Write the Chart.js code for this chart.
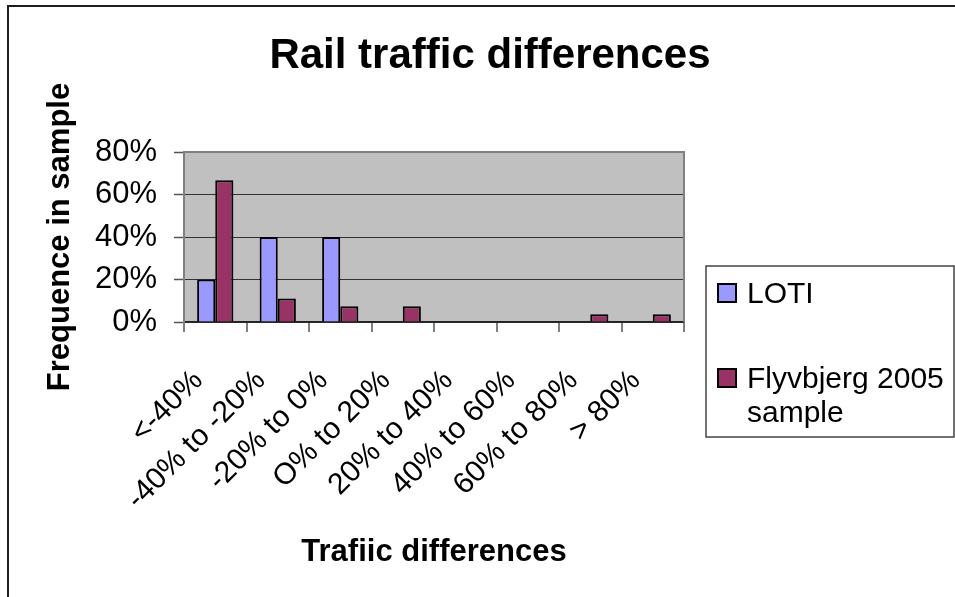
<!DOCTYPE html>
<html>
<head>
<meta charset="utf-8">
<script src="https://cdn.jsdelivr.net/npm/chart.js@4/dist/chart.umd.min.js"></script>
<style>
  html, body { margin: 0; padding: 0; background: #ffffff; }
  #wrap { width: 955px; height: 597px; position: relative; }
</style>
</head>
<body>
<div id="wrap"><canvas id="chart" width="955" height="597"></canvas></div>
<script>
// Share of projects in each traffic-difference band (percent)
const categories = ['<-40%', '-40% to -20%', '-20% to 0%', 'O% to 20%', '20% to 40%', '40% to 60%', '60% to 80%', '> 80%'];
const lotiShare = [20, 40, 40, 0, 0, 0, 0, 0];
const flyvbjergShare = [66.7, 11.1, 7.4, 7.4, 0, 0, 3.7, 3.7];
const yTicks = [0, 20, 40, 60, 80];
const seriesNames = ['LOTI', ['Flyvbjerg 2005', 'sample']];
const seriesColors = ['#9999FF', '#993366'];

const FONT = "'Liberation Sans', Arial, Helvetica, sans-serif";

// Grey plot background, plot frame and outer frame
const frame = {
  id: 'frame',
  beforeDraw(chart) {
    const { ctx, chartArea: a } = chart;
    ctx.save();
    ctx.fillStyle = '#C0C0C0';
    ctx.fillRect(a.left, a.top, a.right - a.left, a.bottom - a.top);
    ctx.restore();
  },
  afterDraw(chart) {
    const { ctx, chartArea: a } = chart;
    ctx.save();
    ctx.strokeStyle = '#808080';
    ctx.lineWidth = 2;
    ctx.beginPath();
    ctx.moveTo(a.left, a.top);
    ctx.lineTo(a.right, a.top);
    ctx.lineTo(a.right, a.bottom);
    ctx.stroke();
    // outer chart frame
    ctx.strokeStyle = '#1e1e1e';
    ctx.lineWidth = 2;
    ctx.beginPath();
    ctx.moveTo(8, chart.height);
    ctx.lineTo(8, 6);
    ctx.lineTo(chart.width, 6);
    ctx.stroke();
    ctx.restore();
  }
};

// Legend on the right, in its own layout box so the title centres over the whole chart
const sideLegend = {
  id: 'sideLegend',
  beforeInit(chart) {
    const box = {
      position: 'right', weight: 0, fullSize: false, options: {},
      width: 0, height: 0, left: 0, top: 0, right: 0, bottom: 0,
      isHorizontal() { return false; },
      update(maxWidth, maxHeight) { this.width = 271; this.height = maxHeight; },
      getPadding() { return { top: 0, left: 0, right: 0, bottom: 0 }; },
      draw() {}
    };
    Chart.layouts.addBox(chart, box);
  },
  afterDraw(chart) {
    const { ctx } = chart;
    const left = chart.chartArea.right + 22;
    const top = 266;
    ctx.save();
    ctx.strokeStyle = '#444444';
    ctx.lineWidth = 1.5;
    ctx.strokeRect(left, top, 248, 171);
    ctx.font = '30px ' + FONT;
    ctx.fillStyle = '#000000';
    ctx.textBaseline = 'alphabetic';
    ctx.textAlign = 'left';
    const rows = [
      { sq: top + 18, base: top + 37 },
      { sq: top + 103, base: top + 122 }
    ];
    chart.data.datasets.forEach((ds, i) => {
      const r = rows[i];
      ctx.fillStyle = ds.backgroundColor;
      ctx.fillRect(left + 12, r.sq, 18, 18);
      ctx.strokeStyle = '#000000';
      ctx.lineWidth = 2;
      ctx.strokeRect(left + 12, r.sq, 18, 18);
      ctx.fillStyle = '#000000';
      const lines = Array.isArray(ds.label) ? ds.label : [ds.label];
      lines.forEach((t, k) => ctx.fillText(t, left + 41, r.base + k * 34));
    });
    ctx.restore();
  }
};

new Chart(document.getElementById('chart'), {
  type: 'bar',
  data: {
    labels: categories,
    datasets: [
      { label: seriesNames[0], data: lotiShare, backgroundColor: seriesColors[0], borderColor: '#000000', borderWidth: 2 },
      { label: seriesNames[1], data: flyvbjergShare, backgroundColor: seriesColors[1], borderColor: '#000000', borderWidth: 2 }
    ]
  },
  options: {
    responsive: false,
    animation: false,
    devicePixelRatio: 1,
    layout: { padding: { left: 25, right: 0, top: 0, bottom: 0 } },
    datasets: { bar: { categoryPercentage: 0.58, barPercentage: 1.0 } },
    plugins: {
      legend: { display: false },
      tooltip: { enabled: false },
      title: {
        display: true,
        text: 'Rail traffic differences',
        color: '#000000',
        font: { family: FONT, size: 42, weight: 'bold', lineHeight: 1.2 },
        padding: { top: 31, bottom: 70.6 }
      }
    },
    scales: {
      x: {
        afterFit(scale) { scale.height = 275; },
        grid: { display: true, drawOnChartArea: false, offset: true, tickLength: 10, color: '#808080', lineWidth: 2 },
        border: { display: true, color: '#222222', width: 1.5 },
        ticks: {
          color: '#000000',
          font: { family: FONT, size: 30 },
          minRotation: 45, maxRotation: 45,
          autoSkip: false,
          padding: 31,
          labelOffset: -17
        },
        title: {
          display: true,
          text: 'Trafiic differences',
          color: '#000000',
          font: { family: FONT, size: 31, weight: 'bold', lineHeight: 1.2 },
          padding: { top: 0, bottom: 26 }
        }
      },
      y: {
        min: 0, max: 80,
        afterFit(scale) { scale.width = 159; },
        afterBuildTicks(scale) { scale.ticks = yTicks.map(v => ({ value: v })); },
        grid: { color: '#333333', lineWidth: 1, tickLength: 10, tickColor: '#555555', tickWidth: 1.5 },
        border: { display: true, color: '#808080', width: 2 },
        ticks: {
          color: '#000000',
          font: { family: FONT, size: 31 },
          padding: 17,
          callback: v => v + '%'
        },
        title: {
          display: true,
          text: 'Frequence in sample',
          color: '#000000',
          font: { family: FONT, size: 31, weight: 'bold', lineHeight: 1.2 },
          padding: { top: 17, bottom: 0 }
        }
      }
    }
  },
  plugins: [frame, sideLegend]
});
</script>
</body>
</html>
